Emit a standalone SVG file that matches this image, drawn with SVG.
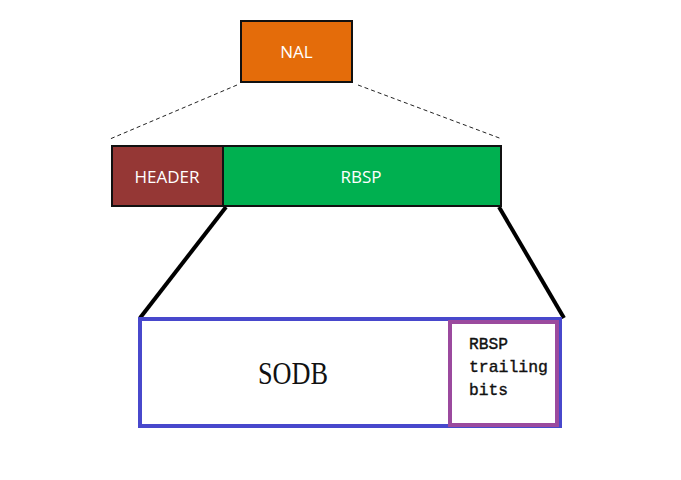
<svg xmlns="http://www.w3.org/2000/svg" width="681" height="480" viewBox="0 0 681 480">
<style>
.box{stroke:#111;stroke-width:2}
.lbl{font-family:"Open Sans","Liberation Sans",sans-serif;font-size:17px;fill:#fff;text-anchor:middle}
.mono{font-family:"Liberation Mono",monospace;font-size:17px;fill:#111;stroke:#111;stroke-width:0.4}
</style>
<rect width="681" height="480" fill="#fff"/>
<g id="connectors">
<line x1="237" y1="85" x2="110" y2="139" stroke="#222" stroke-width="1" stroke-dasharray="4,3"/>
<line x1="358" y1="85" x2="502" y2="139" stroke="#222" stroke-width="1" stroke-dasharray="4,3"/>
<line x1="226" y1="207" x2="140" y2="318" stroke="#000" stroke-width="4"/>
<line x1="499" y1="207" x2="564" y2="318" stroke="#000" stroke-width="4"/>
</g>
<g id="nal">
<rect class="box" x="241" y="21" width="111" height="61" fill="#E46C0A"/>
<text class="lbl" x="296.5" y="58">NAL</text>
</g>
<g id="header">
<rect class="box" x="112" y="146" width="111" height="60" fill="#953735"/>
<text class="lbl" x="167" y="183">HEADER</text>
</g>
<g id="rbsp">
<rect class="box" x="223" y="146" width="278" height="60" fill="#00B050"/>
<text class="lbl" x="361" y="183">RBSP</text>
</g>
<g id="sodb">
<rect x="140" y="319" width="420" height="107" fill="#fff" stroke="#4848CC" stroke-width="4"/>
<text x="293" y="384" font-family="'Liberation Serif',serif" font-size="32" text-anchor="middle" textLength="70" lengthAdjust="spacingAndGlyphs" fill="#111">SODB</text>
</g>
<g id="trailing">
<rect x="450" y="322" width="107" height="103" fill="#fff" stroke="#9B4A9E" stroke-width="4"/>
<text class="mono" x="469" y="349" textLength="39" lengthAdjust="spacingAndGlyphs">RBSP</text>
<text class="mono" x="469" y="372" textLength="79" lengthAdjust="spacingAndGlyphs">trailing</text>
<text class="mono" x="469" y="395" textLength="39" lengthAdjust="spacingAndGlyphs">bits</text>
</g>
</svg>
